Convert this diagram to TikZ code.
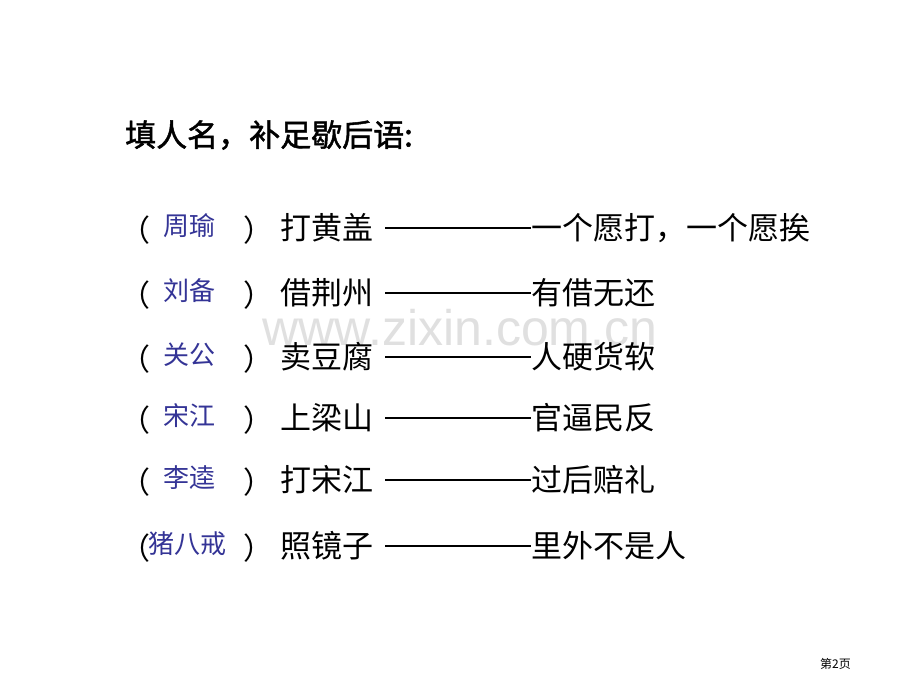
\documentclass[tikz,border=0pt]{standalone}
\usepackage{fontspec}
\newfontfamily\cjk{Noto Sans CJK SC}
\newfontfamily\cjkb[FakeBold=1.5]{Noto Sans CJK SC}
\newfontfamily\wmfont{Liberation Sans}
\definecolor{nameblue}{RGB}{52,52,150}
\tikzset{
  ttltxt/.style={anchor=west,font=\cjkb\fontsize{31}{31}\selectfont,inner sep=0},
  rowtxt/.style={anchor=west,font=\cjk\fontsize{31}{31}\selectfont,inner sep=0},
  partxt/.style={anchor=center,font=\cjk\fontsize{30}{30}\selectfont,inner sep=0},
  nametxt/.style={anchor=west,font=\cjk\fontsize{26}{26}\selectfont,text=nameblue,inner sep=0},
  dashtxt/.style={anchor=west,inner sep=0}}
\begin{document}
\begin{tikzpicture}[x=1pt,y=-1pt]
\useasboundingbox (0,0) rectangle (920,690);
\fill[white] (0,0) rectangle (920,690);
\node[font=\wmfont\fontsize{50}{50}\selectfont,text=black!12] (wm) at (460,328) {www.zixin.com.cn};
\node[ttltxt] (t) at (125,135) {填人名，补足歇后语:};
\foreach \i/\y/\n/\nx/\a/\b in {1/228/周瑜/163/打黄盖/一个愿打，一个愿挨,
 2/293/刘备/163/借荆州/有借无还,
 3/357/关公/163/卖豆腐/人硬货软,
 4/418/宋江/163/上梁山/官逼民反,
 5/480/李逵/163/打宋江/过后赔礼,
 6/546/猪八戒/148/照镜子/里外不是人}{
  \node[partxt] (l\i) at (135,\y+2) {（};
  \node[nametxt] (n\i) at (\nx,\y-2) {\n};
  \node[partxt] (r\i) at (258,\y+2) {）};
  \node[rowtxt] (a\i) at (280,\y) {\a};
  \node[dashtxt] (d\i) at (385,\y) {\rule[0pt]{146pt}{1.6pt}};
  \node[rowtxt] (b\i) at (531,\y) {\b};
}
\node[font=\cjk\fontsize{12}{12}\selectfont,anchor=west,inner sep=0] (p) at (820,664) {第2页};
\end{tikzpicture}
\end{document}
